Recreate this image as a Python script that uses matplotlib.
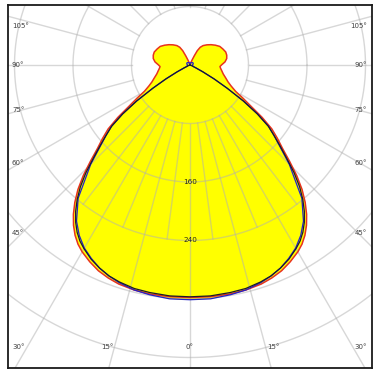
import numpy as np
import matplotlib
matplotlib.use("Agg")
import matplotlib.pyplot as plt

# ---------------- data ----------------
# gamma angle from nadir (deg) and luminous intensity (cd); curves are symmetric
red_angles = [0, 5, 10, 14, 18, 21, 24, 27, 30, 32, 34, 36, 38, 40, 42, 44, 46, 48, 50, 52, 54,
              56, 58, 60, 63, 66, 70, 75, 80, 84, 87, 90, 95, 100, 105, 110, 116, 122,
              128, 134, 140, 146, 150, 153, 155, 157, 160, 170, 180]
red_cd = [318, 318, 318, 317, 315, 312, 308, 302, 295, 289, 281, 271, 259, 245, 229, 210, 189,
          170, 156, 142, 122, 100, 85, 72, 63, 57, 52, 47, 44, 42, 41, 43, 48, 51, 52,
          52, 50, 48, 44, 40, 36, 32, 28, 22, 14, 8, 4, 1, 0]

black_angles = [0, 5, 10, 14, 18, 21, 24, 27, 30, 32, 34, 36, 38, 40, 42, 44, 46, 48, 50, 52, 54,
                56, 58, 60, 62, 64, 66, 70, 80, 90]
black_cd = [317, 317, 316, 315, 312, 309, 304, 298, 290, 284, 276, 266, 254, 240, 224, 205, 184,
            166, 150, 136, 114, 88, 60, 38, 20, 8, 3, 1, 0, 0]

blue_angles = [0, 5, 10, 14, 18, 21, 24, 27, 30, 33, 36, 40, 45, 50, 52, 54, 56, 58, 60, 62, 64,
               66, 70, 75, 80, 90, 100, 115, 130, 145, 160, 170, 180]
blue_cd = [321, 321, 319, 317, 313, 309, 304, 297, 289, 278, 264, 238, 192, 150, 136, 114, 88,
           60, 38, 20, 9, 5, 4, 4, 3, 3, 4, 5, 5, 4, 3, 2, 2]

ring_values = [80, 160, 240, 320, 400]
ring_label_values = [160, 240]
side_angles = [105, 90, 75, 60, 45]
bottom_angles = [30, 15, 0, 15, 30]

# ---------------- geometry ----------------
W, H = 380, 377
cx, cy = 190, 65                 # polar centre in pixels
px_per_cd = 58.5 / 80.0
s = 1.0 / px_per_cd
left, top, right, bottom = 8, 5, 372, 368

fig = plt.figure(figsize=(W / 100, H / 100), dpi=100)
fig.patch.set_facecolor("white")
ax = fig.add_axes([left / W, 1 - bottom / H, (right - left) / W, (bottom - top) / H])
ax.set_xlim((left - cx) * s, (right - cx) * s)
ax.set_ylim(-(bottom - cy) * s, (cy - top) * s)
ax.set_xticks([])
ax.set_yticks([])
for sp in ax.spines.values():
    sp.set_linewidth(1.3)
    sp.set_color("#1a1a1a")
    sp.set_zorder(10)


def P(x, y):
    return ((x - cx) * s, (cy - y) * s)


def curve(angles, cd):
    a = np.asarray(angles, float)
    v = np.asarray(cd, float)
    th = np.concatenate([-a[::-1], a[1:]])
    vv = np.concatenate([v[::-1], v[1:]])
    t = np.radians(th)
    return vv * np.sin(t), -vv * np.cos(t)


rx, ry = curve(red_angles, red_cd)
bx, by = curve(black_angles, black_cd)
ux, uy = curve(blue_angles, blue_cd)

ax.fill(rx, ry, color="#ffff00", lw=0, zorder=1)
ax.fill(ux, uy, color="#ffff00", lw=0, zorder=1)

# grid
gcol = "#b0b0b0"
galpha = 0.5
t = np.linspace(0, 2 * np.pi, 721)
for r in ring_values:
    ax.plot(r * np.cos(t), r * np.sin(t), color=gcol, alpha=galpha, lw=1.0, zorder=2)
for a in np.arange(0, 360, 15):
    ar = np.radians(a)
    ax.plot([80 * np.sin(ar), 700 * np.sin(ar)], [-80 * np.cos(ar), -700 * np.cos(ar)],
            color=gcol, alpha=galpha, lw=1.0, zorder=2)
for a in [-37.5, -22.5, -7.5, 7.5, 22.5, 37.5]:
    ar = np.radians(a)
    ax.plot([80 * np.sin(ar), 240 * np.sin(ar)], [-80 * np.cos(ar), -240 * np.cos(ar)],
            color=gcol, alpha=galpha, lw=1.0, zorder=2)

# curves
ax.plot(rx, ry, color="#e8321e", lw=1.1, zorder=4, solid_joinstyle="round")
ax.plot(ux, uy, color="#2222cc", lw=0.9, zorder=5, solid_joinstyle="round")
ax.plot(bx, by, color="#1a1a2a", lw=0.9, zorder=6, solid_joinstyle="round")

# ring labels
for v in ring_label_values:
    ax.text(0, -v, str(v), ha="center", va="center", fontsize=5.2, color="#222222", zorder=7)

# angle labels
tcol = "#404040"
fs = 5.0
side_y = [26, 65, 110, 163, 233]
for a, yy in zip(side_angles, side_y):
    ax.text(*P(12, yy), f"{a}°", ha="left", va="center", fontsize=fs, color=tcol, zorder=7)
    ax.text(*P(367, yy), f"{a}°", ha="right", va="center", fontsize=fs, color=tcol, zorder=7)
bx_pos = [(12, "left"), (107, "center"), (190, "center"), (273, "center"), (367, "right")]
for a, (xx, ha) in zip(bottom_angles, bx_pos):
    ax.text(*P(xx, 347), f"{a}°", ha=ha, va="center", fontsize=fs, color=tcol, zorder=7)

fig.savefig("out.png", dpi=100, facecolor="white")
